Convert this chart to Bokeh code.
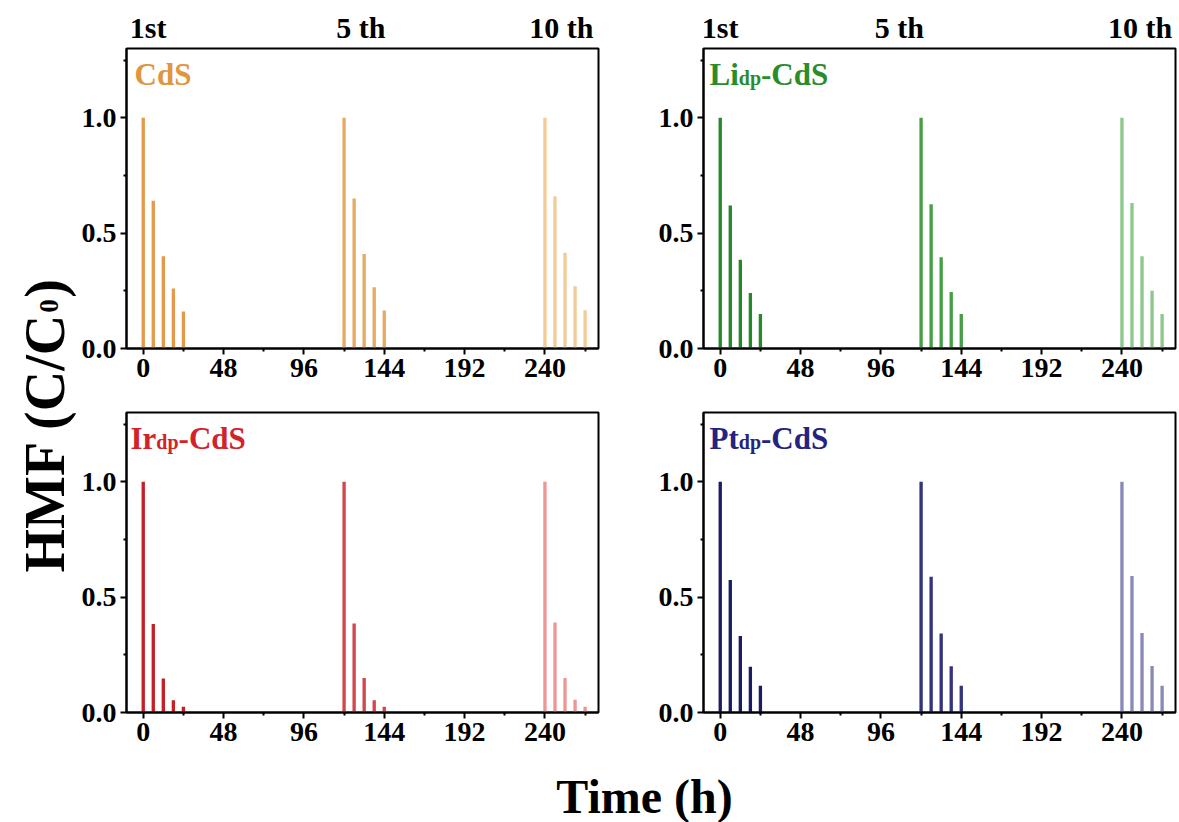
from bokeh.plotting import figure
from bokeh.models import Label, FixedTicker, Range1d, ColumnDataSource
from bokeh.layouts import row, column
from bokeh.embed import file_html
from bokeh.resources import INLINE

FONT = "Liberation Serif"

# ---------------- data ----------------
cycle_labels = ["1st", "5 th", "10 th"]
cycle_times = [[0, 6, 12, 18, 24], [120, 126, 132, 138, 144], [240, 246, 252, 258, 264]]
x_ticks = [0, 48, 96, 144, 192, 240]
x_minor = [24, 72, 120, 168, 216, 264]
y_ticks = [0.0, 0.5, 1.0]
y_minor = [0.25, 0.75, 1.25]

cds_1st = [1.0, 0.64, 0.40, 0.26, 0.16]
cds_5th = [1.0, 0.65, 0.41, 0.265, 0.165]
cds_10th = [1.0, 0.66, 0.415, 0.27, 0.166]

li_1st = [1.0, 0.62, 0.385, 0.24, 0.15]
li_5th = [1.0, 0.625, 0.395, 0.245, 0.15]
li_10th = [1.0, 0.63, 0.40, 0.25, 0.15]

ir_1st = [1.0, 0.383, 0.147, 0.053, 0.025]
ir_5th = [1.0, 0.386, 0.15, 0.053, 0.025]
ir_10th = [1.0, 0.39, 0.15, 0.055, 0.025]

pt_1st = [1.0, 0.574, 0.332, 0.198, 0.116]
pt_5th = [1.0, 0.588, 0.342, 0.20, 0.116]
pt_10th = [1.0, 0.592, 0.345, 0.202, 0.116]

# ---------------- styling ----------------
FW, FH = 472, 300
STRIP_H = 46
TICK_FS = 28
CYC_FS = 30
TITLE_FS = 31
SUB_FS = 20
BL = 0.32  # empirical baseline shift (fraction of font size)
XR = (-10, 272)
LEFT_B = 50
YW = 76

CHAR_W = {"L": .667, "i": .278, "d": .556, "p": .556, "I": .389, "r": .444,
          "P": .611, "t": .333, "C": .722, "S": .556, "-": .333}


def lab(x, y_base_from_bottom, text, fs, color, align="left", x_units="screen",
        angle=0):
    """Label whose alphabetic baseline sits at the given screen y (from frame bottom)."""
    if angle == 0:
        return Label(x=x, y=y_base_from_bottom + BL * fs, x_units=x_units, y_units="screen",
                     text=text, text_font=FONT, text_font_style="bold",
                     text_font_size=f"{fs}px", text_color=color,
                     text_align=align, text_baseline="alphabetic")
    return Label(x=x - BL * fs, y=y_base_from_bottom, x_units="screen", y_units="screen",
                 text=text, text_font=FONT, text_font_style="bold",
                 text_font_size=f"{fs}px", text_color=color, angle=angle,
                 angle_units="deg", text_align=align, text_baseline="alphabetic")


def style_axes(p):
    for ax in (p.xaxis[0], p.yaxis[0]):
        ax.axis_line_width = 2
        ax.axis_line_color = "black"
        ax.major_tick_line_width = 2
        ax.minor_tick_line_width = 2
        ax.major_tick_in = 0
        ax.major_tick_out = 6
        ax.minor_tick_in = 0
        ax.minor_tick_out = 3
        ax.major_label_text_font = FONT
        ax.major_label_text_font_style = "bold"
        ax.major_label_text_font_size = f"{TICK_FS}px"
        ax.major_label_text_color = "black"
    p.xaxis[0].ticker = FixedTicker(ticks=x_ticks, minor_ticks=x_minor)
    p.yaxis[0].ticker = FixedTicker(ticks=y_ticks, minor_ticks=y_minor)
    p.yaxis[0].major_label_overrides = {t: f"{t:.1f}" for t in y_ticks}
    p.xaxis[0].major_label_standoff = 4
    p.yaxis[0].major_label_standoff = 4
    p.grid.visible = False
    p.outline_line_color = "black"
    p.outline_line_width = 2


def em(s, size):
    return sum(CHAR_W.get(c, 0.5) for c in s) * size


def panel(title_parts, title_color, series, colors, top_row, left_col, xr, tx):
    p = figure(
        frame_width=FW, frame_height=FH,
        x_range=xr, y_range=Range1d(0, 1.3),
        output_backend="svg", toolbar_location=None,
        min_border_left=LEFT_B if left_col else 58,
        min_border_right=47 if left_col else 2,
        min_border_top=2 if top_row else 20,
        min_border_bottom=44,
        background_fill_color="white", border_fill_color="white",
    )
    style_axes(p)
    for times, vals, col in zip(cycle_times, series, colors):
        src = ColumnDataSource(dict(x=times, top=vals))
        p.vbar(x="x", top="top", bottom=0, width=2.0, source=src,
               fill_color=col, line_color=None)
    xpos = tx
    for txt, fs in title_parts:
        p.add_layout(lab(xpos, FH - 36, txt, fs, title_color))
        xpos += em(txt, fs)
    return p


def strip(xr, left_col, lab_x):
    s = figure(frame_width=FW, frame_height=STRIP_H, x_range=xr, y_range=Range1d(0, 1),
               output_backend="svg", toolbar_location=None,
               x_axis_type=None, y_axis_type=None,
               min_border_left=LEFT_B if left_col else 58,
               min_border_right=47 if left_col else 2,
               min_border_top=0, min_border_bottom=0, outline_line_color=None)
    s.grid.visible = False
    for t, lx, al in zip(cycle_labels, lab_x, ["left", "center", "right"]):
        s.add_layout(lab(lx, STRIP_H - 37, t, CYC_FS, "black", align=al, x_units="data"))
    return s


xr_l = Range1d(*XR)
xr_r = Range1d(*XR)

p1 = panel([("CdS", TITLE_FS)], "#E0963C",
           [cds_1st, cds_5th, cds_10th], ["#E39B4B", "#E8AA62", "#F2CB98"],
           True, True, xr_l, 8)
p2 = panel([("Li", TITLE_FS), ("dp", SUB_FS), ("-CdS", TITLE_FS)], "#2A8C2A",
           [li_1st, li_5th, li_10th], ["#25892A", "#45A045", "#8CC88C"],
           True, False, xr_r, 6)
p3 = panel([("Ir", TITLE_FS), ("dp", SUB_FS), ("-CdS", TITLE_FS)], "#D2232A",
           [ir_1st, ir_5th, ir_10th], ["#C42028", "#D2474C", "#EC9696"],
           False, True, xr_l, 4)
p4 = panel([("Pt", TITLE_FS), ("dp", SUB_FS), ("-CdS", TITLE_FS)], "#232382",
           [pt_1st, pt_5th, pt_10th], ["#1C1C64", "#33337E", "#8A8AB8"],
           False, False, xr_r, 6)

s1 = strip(xr_l, True, [-8, 130, 269])
s2 = strip(xr_r, False, [-11, 107, 270])

# y label figure
TOP_H = 2 + FH + 44
BOT_H = 20 + FH + 44
TOTAL_H = STRIP_H + TOP_H + BOT_H
yfig = figure(width=YW, height=TOTAL_H, x_range=Range1d(0, 1), y_range=Range1d(0, 1),
              output_backend="svg", toolbar_location=None,
              x_axis_type=None, y_axis_type=None, min_border=0,
              outline_line_color=None)
yfig.grid.visible = False
Y_FS = 56
y_start = TOTAL_H - 572
base_x = 62
w_main = (0.778 + 0.944 + 0.611 + 0.25 + 0.333 + 0.722 + 0.278 + 0.722) * Y_FS
yfig.add_layout(lab(base_x, y_start, "HMF (C/C", Y_FS, "black", angle=90))
yfig.add_layout(lab(base_x - 5, y_start + w_main, "0", 27, "black", angle=90))
yfig.add_layout(lab(base_x, y_start + w_main + 15, ")", Y_FS, "black", angle=90))

# x label figure
XH = 66
xfig = figure(width=YW + (LEFT_B + FW + 47) + (58 + FW + 2), height=XH,
              x_range=Range1d(0, 1), y_range=Range1d(0, 1),
              output_backend="svg", toolbar_location=None,
              x_axis_type=None, y_axis_type=None, min_border=0,
              outline_line_color=None)
xfig.grid.visible = False
xfig.add_layout(lab(644, XH - 55, "Time (h)", 48, "black", align="center"))

layout = column(row(yfig, column(row(s1, s2), row(p1, p2), row(p3, p4))), xfig)

with open("out.html", "w") as f:
    f.write(file_html(layout, INLINE))
